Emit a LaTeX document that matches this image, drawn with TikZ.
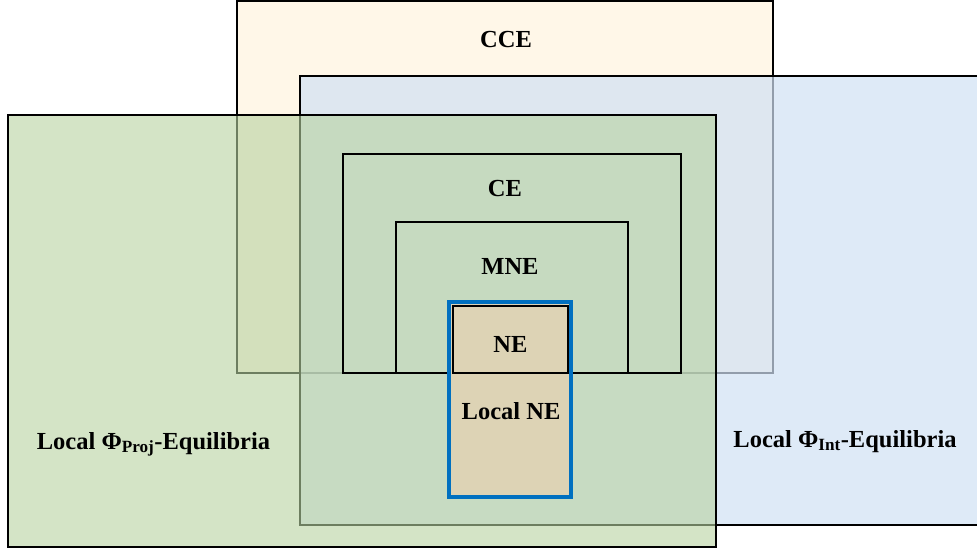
\documentclass[tikz,border=0pt]{standalone}
\usepackage{fontspec}
\setmainfont{Liberation Serif}
\usetikzlibrary{positioning}

\definecolor{cceFill}{HTML}{FFF7E8}
\definecolor{intFill}{HTML}{D0E1F4}
\definecolor{projFill}{HTML}{B7D2A0}
\definecolor{localFill}{HTML}{DDD3B5}
\definecolor{localEdge}{HTML}{0070C0}

\begin{document}
\begin{tikzpicture}[
    x=1pt,
    y=-1pt,
    font=\fontsize{24.5}{28}\selectfont\bfseries,
    setbox/.style={
        draw=black,
        line width=2pt,
        rectangle,
        inner sep=0pt,
        outer sep=0pt,
        anchor=north west
    },
    lbl/.style={
        anchor=base,
        inner sep=0pt
    }
]
    \useasboundingbox (0,0) rectangle (977,551);

    % outer sets
    \node[setbox,fill=cceFill,minimum width=536pt,minimum height=372pt] (cce) at (237,1) {};
    \node[setbox,fill=intFill,fill opacity=0.7,minimum width=690pt,minimum height=449pt] (int) at (300,76) {};
    \node[setbox,fill=projFill,fill opacity=0.6,minimum width=708pt,minimum height=432pt] (proj) at (8,115) {};

    % nested sets
    \node[setbox,minimum width=338pt,minimum height=219pt] (ce) at (343,154) {};
    \node[setbox,minimum width=232pt,minimum height=151pt] (mne) at (396,222) {};
    \node[setbox,draw=localEdge,line width=3.5pt,fill=localFill,minimum width=122pt,minimum height=195pt] (lne) at (449,302) {};
    \node[setbox,line width=2.5pt,fill=localFill,minimum width=115pt,minimum height=67pt] (ne) at (453,306) {};

    % labels
    \node[lbl] (cceText) at (506,48) {CCE};
    \node[lbl] (ceText) at (505,196) {CE};
    \node[lbl] (mneText) at (510,274) {MNE};
    \node[lbl] (neText) at (510.5,352) {NE};
    \node[lbl] (lneText) at (511,419) {Local NE};
    \node[lbl] (projText) at (153.5,449) {Local Φ\textsubscript{Proj}-Equilibria};
    \node[lbl] (intText) at (845,447) {Local Φ\textsubscript{Int}-Equilibria};
\end{tikzpicture}
\end{document}
